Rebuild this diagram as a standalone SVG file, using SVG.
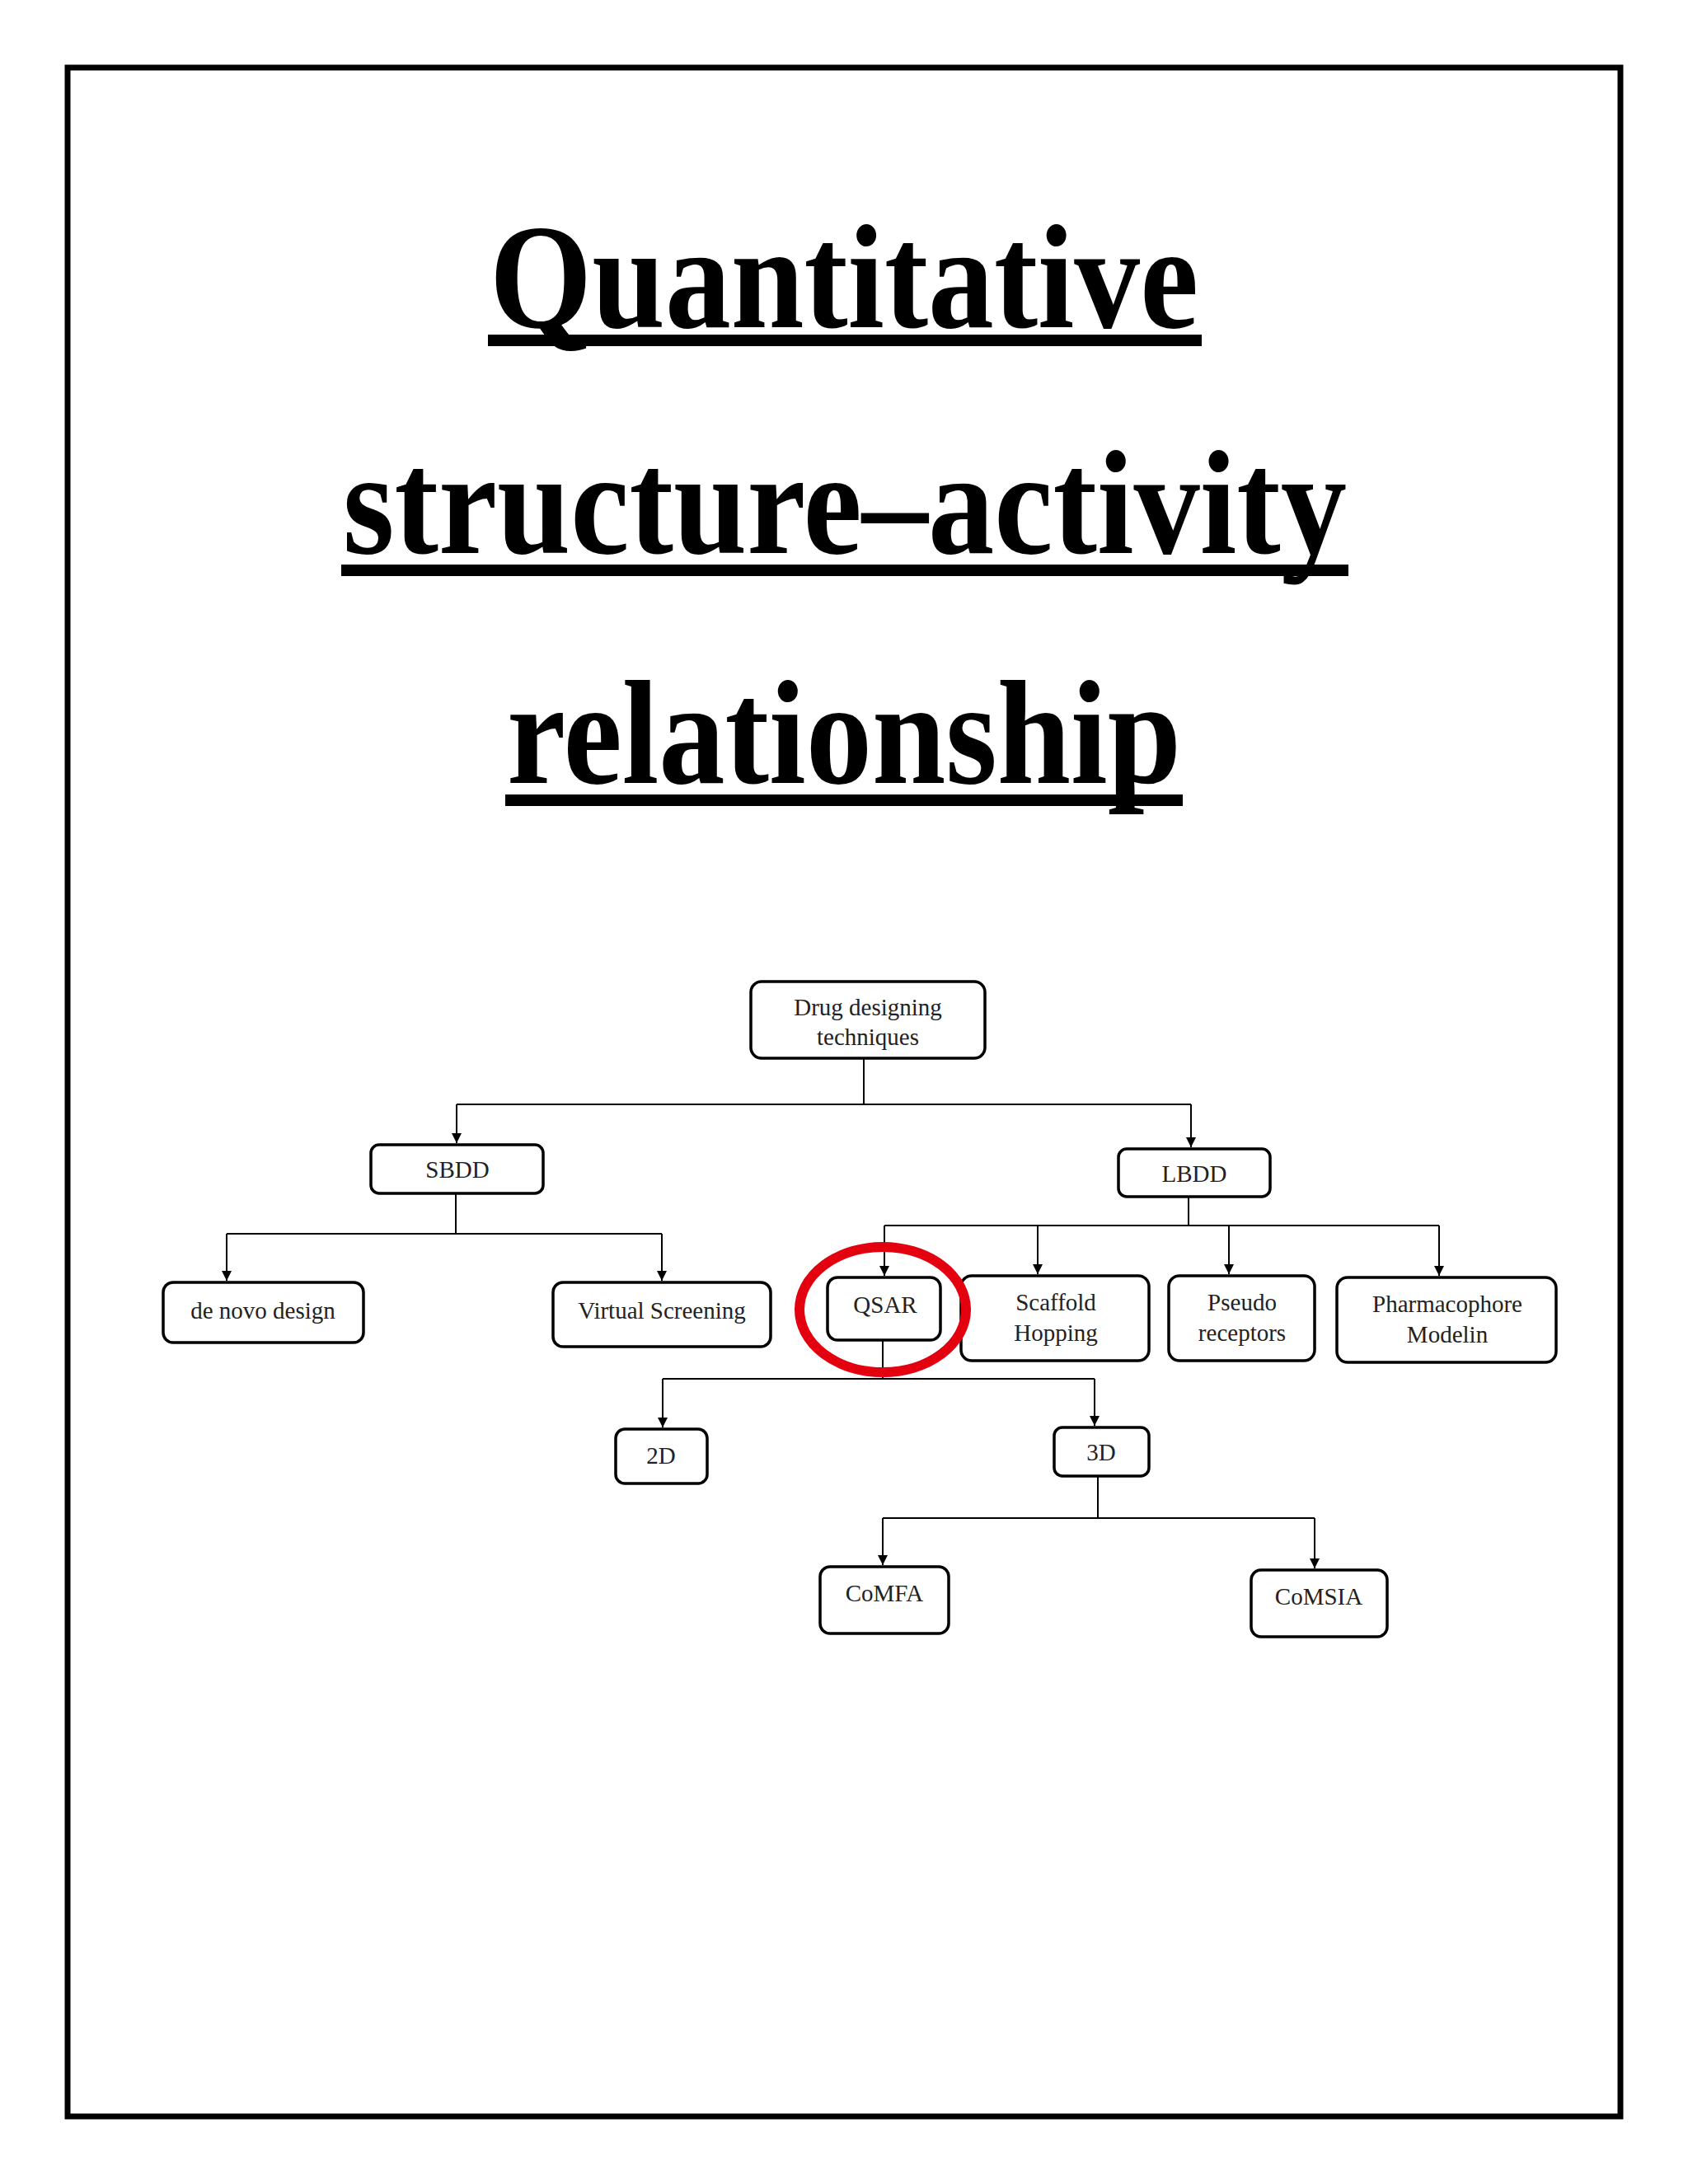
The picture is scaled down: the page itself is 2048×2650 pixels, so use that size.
<svg xmlns="http://www.w3.org/2000/svg" width="2048" height="2650" viewBox="0 0 2048 2650">
<style>
.t{font-family:"Liberation Serif",serif;font-weight:bold;font-size:180px;fill:#000}
.u{fill:#000}
.n rect{fill:#fff;stroke:#000;stroke-width:3.5}
.n text{font-family:"Liberation Serif",serif;font-size:29px;fill:#222;text-anchor:middle}
.c path{fill:none;stroke:#000;stroke-width:2}
</style>
<defs><marker id="a" viewBox="0 0 10 10" refX="10" refY="5" markerWidth="7" markerHeight="9" markerUnits="userSpaceOnUse" orient="auto"><path d="M0,0 L10,5 L0,10 z" fill="#000"/></marker>
<marker id="b" viewBox="0 0 10 10" refX="10" refY="5" markerWidth="20" markerHeight="12" markerUnits="userSpaceOnUse" orient="auto"><path d="M0,0 L10,5 L0,10 z" fill="#000"/></marker></defs>
<rect width="2048" height="2650" fill="#fff"/>
<rect x="82" y="82" width="1884" height="2486" fill="none" stroke="#000" stroke-width="7"/>
<text class="t" x="594" y="397" textLength="860" lengthAdjust="spacingAndGlyphs">Quantitative</text>
<rect class="u" x="592" y="406" width="866" height="14"/>
<text class="t" x="416" y="671" textLength="1218" lengthAdjust="spacingAndGlyphs">structure–activity</text>
<rect class="u" x="414" y="685" width="1222" height="14"/>
<text class="t" x="615" y="950" textLength="818" lengthAdjust="spacingAndGlyphs">relationship</text>
<rect class="u" x="613" y="964" width="822" height="14"/>
<g class="c">
<path d="M1048,1284 V1340"/><path d="M554,1340 H1445"/>
<path d="M554,1340 V1387" marker-end="url(#b)"/><path d="M1445,1340 V1392" marker-end="url(#b)"/>
<path d="M553,1448 V1497"/><path d="M275,1497 H803"/>
<path d="M275,1497 V1554" marker-end="url(#b)"/><path d="M803,1497 V1554" marker-end="url(#b)"/>
<path d="M1442,1452 V1487"/><path d="M1073,1487 H1746"/>
<path d="M1073,1487 V1548" marker-end="url(#b)"/><path d="M1259,1487 V1546" marker-end="url(#b)"/><path d="M1491,1487 V1546" marker-end="url(#b)"/><path d="M1746,1487 V1548" marker-end="url(#b)"/>
<path d="M1071,1626 V1673"/><path d="M804,1673 H1328"/>
<path d="M804,1673 V1732" marker-end="url(#b)"/><path d="M1328,1673 V1730" marker-end="url(#b)"/>
<path d="M1332,1791 V1842"/><path d="M1071,1842 H1595"/>
<path d="M1071,1842 V1899" marker-end="url(#b)"/><path d="M1595,1842 V1903" marker-end="url(#b)"/>
</g>
<g id="drug" class="n"><rect x="911" y="1191" width="284" height="93" rx="13"/><text x="1053" y="1232">Drug designing</text><text x="1053" y="1268">techniques</text></g>
<g id="sbdd" class="n"><rect x="450" y="1389" width="209" height="59" rx="10"/><text x="555" y="1429">SBDD</text></g>
<g id="lbdd" class="n"><rect x="1357" y="1394" width="184" height="58" rx="10"/><text x="1449" y="1434">LBDD</text></g>
<g id="denovo" class="n"><rect x="198" y="1556" width="243" height="73" rx="12"/><text x="319" y="1600">de novo design</text></g>
<g id="vs" class="n"><rect x="671" y="1556" width="264" height="78" rx="12"/><text x="803" y="1600">Virtual Screening</text></g>
<g id="qsar" class="n"><rect x="1004" y="1550" width="137" height="76" rx="12"/><text x="1074" y="1593">QSAR</text></g>
<g id="scaffold" class="n"><rect x="1166" y="1548" width="228" height="103" rx="13"/><text x="1281" y="1590">Scaffold</text><text x="1281" y="1627">Hopping</text></g>
<g id="pseudo" class="n"><rect x="1418" y="1548" width="177" height="103" rx="13"/><text x="1507" y="1590">Pseudo</text><text x="1507" y="1627">receptors</text></g>
<g id="pharm" class="n"><rect x="1622" y="1550" width="266" height="103" rx="13"/><text x="1756" y="1592">Pharmacophore</text><text x="1756" y="1629">Modelin</text></g>
<g id="d2" class="n"><rect x="747" y="1734" width="111" height="66" rx="11"/><text x="802" y="1776">2D</text></g>
<g id="d3" class="n"><rect x="1279" y="1732" width="115" height="59" rx="10"/><text x="1336" y="1772">3D</text></g>
<g id="comfa" class="n"><rect x="995" y="1901" width="156" height="81" rx="12"/><text x="1073" y="1943">CoMFA</text></g>
<g id="comsia" class="n"><rect x="1518" y="1905" width="165" height="81" rx="12"/><text x="1600" y="1947">CoMSIA</text></g>
<ellipse cx="1071" cy="1589" rx="101" ry="76" fill="none" stroke="#e3000f" stroke-width="12"/>
</svg>
